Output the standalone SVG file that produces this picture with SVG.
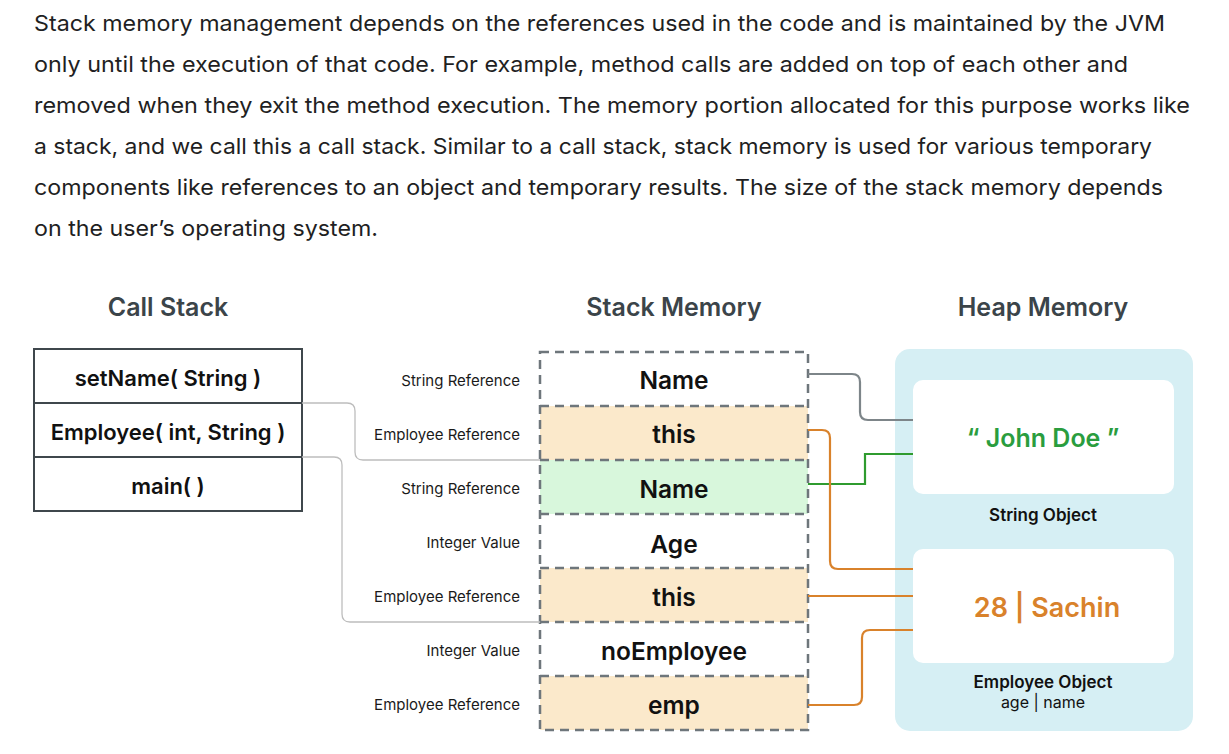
<svg xmlns="http://www.w3.org/2000/svg" width="1229" height="754" viewBox="0 0 1229 754">
<style>
.para{font-family:Inter,"Noto Sans",sans-serif;font-size:22px;fill:#1f1f23}
.head{font-family:Inter,"Noto Sans",sans-serif;font-size:25px;font-weight:600;fill:#3b4449;text-anchor:middle}
.cs{font-family:Inter,"Noto Sans",sans-serif;font-size:22px;font-weight:600;fill:#111;text-anchor:middle}
.lbl{font-family:Inter,"Noto Sans",sans-serif;font-size:15px;fill:#1a1a1a;text-anchor:end}
.sm{font-family:Inter,"Noto Sans",sans-serif;font-size:24.5px;font-weight:600;fill:#111;text-anchor:middle}
.obj{font-family:Inter,"Noto Sans",sans-serif;font-size:17px;font-weight:600;fill:#111;text-anchor:middle}
.row{stroke:#6e767b;stroke-width:2.5;stroke-dasharray:9 6}
.csbox{fill:#fff;stroke:#3f474c;stroke-width:2}
.thin{fill:none;stroke:#bdbdbd;stroke-width:1.3}
.or{fill:none;stroke:#d9822b;stroke-width:2.2}
</style>
<rect width="1229" height="754" fill="#fff"/>
<g id="paragraph">
<text class="para" x="34" y="31" textLength="1131" lengthAdjust="spacingAndGlyphs">Stack memory management depends on the references used in the code and is maintained by the JVM</text>
<text class="para" x="34" y="72" textLength="1094" lengthAdjust="spacingAndGlyphs">only until the execution of that code. For example, method calls are added on top of each other and</text>
<text class="para" x="34" y="113" textLength="1156" lengthAdjust="spacingAndGlyphs">removed when they exit the method execution. The memory portion allocated for this purpose works like</text>
<text class="para" x="34" y="154" textLength="1118" lengthAdjust="spacingAndGlyphs">a stack, and we call this a call stack. Similar to a call stack, stack memory is used for various temporary</text>
<text class="para" x="34" y="195" textLength="1129" lengthAdjust="spacingAndGlyphs">components like references to an object and temporary results. The size of the stack memory depends</text>
<text class="para" x="34" y="236" textLength="344" lengthAdjust="spacingAndGlyphs">on the user’s operating system.</text>
</g>
<g id="headings">
<text class="head" x="168" y="316">Call Stack</text>
<text class="head" x="674" y="316">Stack Memory</text>
<text class="head" x="1043" y="316">Heap Memory</text>
</g>
<g id="call-stack">
<rect class="csbox" x="34" y="349" width="268" height="54"/>
<rect class="csbox" x="34" y="403" width="268" height="54"/>
<rect class="csbox" x="34" y="457" width="268" height="54"/>
<text class="cs" x="168" y="386">setName( String )</text>
<text class="cs" x="168" y="440">Employee( int, String )</text>
<text class="cs" x="168" y="494">main( )</text>
</g>
<g id="stack-memory">
<rect x="540" y="406" width="268" height="54" fill="#fbe9cb"/>
<rect x="540" y="460" width="268" height="54" fill="#d8f7dc"/>
<rect x="540" y="568" width="268" height="54" fill="#fbe9cb"/>
<rect x="540" y="676" width="268" height="54" fill="#fbe9cb"/>
<path class="row" fill="none" d="M540 352 H808 V730 H540 Z"/>
<path class="row" fill="none" d="M540 406 H808 M540 460 H808 M540 514 H808 M540 568 H808 M540 622 H808 M540 676 H808"/>
<text class="sm" x="674" y="389">Name</text>
<text class="sm" x="674" y="443">this</text>
<text class="sm" x="674" y="498">Name</text>
<text class="sm" x="674" y="553">Age</text>
<text class="sm" x="674" y="606">this</text>
<text class="sm" x="674" y="660">noEmployee</text>
<text class="sm" x="674" y="714">emp</text>
<text class="lbl" x="520" y="386">String Reference</text>
<text class="lbl" x="520" y="440">Employee Reference</text>
<text class="lbl" x="520" y="494">String Reference</text>
<text class="lbl" x="520" y="548">Integer Value</text>
<text class="lbl" x="520" y="602">Employee Reference</text>
<text class="lbl" x="520" y="656">Integer Value</text>
<text class="lbl" x="520" y="710">Employee Reference</text>
</g>
<g id="heap-memory">
<rect x="895" y="349" width="298" height="382" rx="15" fill="#d6eff4"/>
</g>
<g id="string-object">
<rect x="913" y="380" width="261" height="114" rx="10" fill="#fff"/>
<text x="1043" y="447" font-family="Inter,'Noto Sans',sans-serif" font-size="25" font-weight="600" fill="#2a9d3e" text-anchor="middle">“ John Doe ”</text>
<text class="obj" x="1043" y="521">String Object</text>
</g>
<g id="employee-object">
<rect x="913" y="549" width="261" height="114" rx="10" fill="#fff"/>
<text x="1047" y="617" font-family="Inter,'Noto Sans',sans-serif" font-size="27" font-weight="600" fill="#d9822b" text-anchor="middle">28 | Sachin</text>
<text class="obj" x="1043" y="688">Employee Object</text>
<text x="1043" y="708" font-family="Inter,'Noto Sans',sans-serif" font-size="16" fill="#111" text-anchor="middle">age | name</text>
</g>
<g id="connectors">
<path class="thin" d="M302 403 H347 Q355 403 355 411 V452 Q355 460 363 460 H540"/>
<path class="thin" d="M302 457 H334 Q342 457 342 465 V614 Q342 622 350 622 H540"/>
<path fill="none" stroke="#7d8589" stroke-width="2.2" d="M808 374 H852 Q860 374 860 382 V412 Q860 420 868 420 H913"/>
<path fill="none" stroke="#2f9b2f" stroke-width="2.2" d="M808 484 H865 V454 H913"/>
<path class="or" d="M808 430 H822 Q830 430 830 438 V561 Q830 569 838 569 H913"/>
<path class="or" d="M808 596 H913"/>
<path class="or" d="M808 705 H854 Q862 705 862 697 V638 Q862 630 870 630 H913"/>
</g>
</svg>
